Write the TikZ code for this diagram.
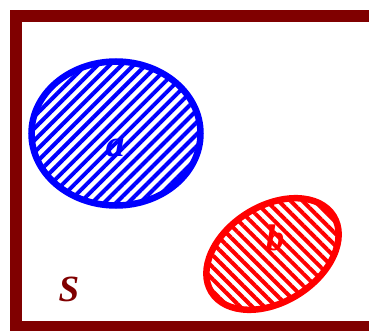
\documentclass[tikz,border=0pt]{standalone}
\usepackage{fontspec}
\setmainfont{Liberation Serif}
\usetikzlibrary{shapes.geometric,patterns.meta}
\definecolor{setFrame}{HTML}{800000}
\definecolor{setBlue}{HTML}{0000FF}
\definecolor{setRed}{HTML}{FF0000}
\tikzset{
    setBase/.style={
        ellipse,
        draw,
        line width=6.5pt,
        inner sep=0pt
    },
    % Set variants
    setA/.style={setBase, draw=setBlue, pattern color=setBlue,
        pattern={Lines[angle=45, distance=8.5pt, line width=4pt]}},
    setB/.style={setBase, draw=setRed, pattern color=setRed,
        pattern={Lines[angle=-45, distance=8.5pt, line width=4pt]}},
    setLabel/.style={font=\fontsize{37}{40}\selectfont\bfseries\itshape, inner sep=0pt}
}
\begin{document}
\begin{tikzpicture}[x=1pt, y=-1pt]
    \useasboundingbox (0,0) rectangle (369,331);
    % universe frame, open on the right
    \coordinate (topR) at (372,16);
    \coordinate (botR) at (372,327);
    \coordinate (corTL) at (16,16);
    \coordinate (corBL) at (16,327);
    \draw[setFrame, line width=12pt, miter limit=10] (topR) -- (corTL) -- (corBL) -- (botR);
    % the two sets
    \node[setA, minimum width=169pt, minimum height=144pt] (ellA) at (116,133.5) {};
    \node[setB, minimum width=144pt, minimum height=96pt, rotate=32] (ellB) at (272.5,254) {};
    \node[setLabel, text=setBlue] (labA) at (115,148) {a};
    \node[setLabel, text=setRed] (labB) at (275,238) {b};
    \node[setLabel, text=setFrame] (labS) at (69,289.5) {S};
\end{tikzpicture}
\end{document}
